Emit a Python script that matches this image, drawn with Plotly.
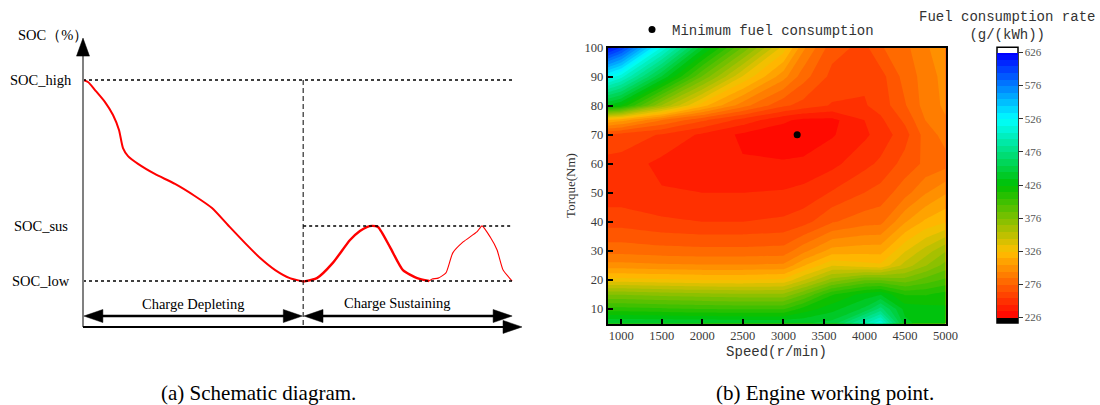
import plotly.graph_objects as go

# ---------------- Panel (a): schematic SOC profile ----------------
SOC_LOW = 20.0
SOC_SUS = 39.2
SOC_HIGH = 90.0
T_SWITCH = 51.2
T_END = 100.0
SOC_AXIS0 = 4.0       # SOC value where the time axis is drawn
SOC_AXIS_TIP = 104.6  # top of SOC axis arrow
T_AXIS_TIP = 102.1    # tip of time axis arrow
SOC_MODE_ARROW = 7.8  # level of the mode arrows

cd_time = [0, 1.16, 2.79, 5.12, 6.98, 8.37, 9.3, 10.47, 12.8, 16.7, 21.4, 26.0,
           30.0, 33.7, 37.7, 41.2, 44.7, 48.1, 51.2]
cd_soc = [90.0, 89.3, 86.5, 82.3, 77.8, 72.6, 66.3, 63.5, 60.8, 57.3, 53.8, 49.6,
          45.4, 39.5, 33.2, 28.0, 23.8, 21.0, 19.8]

cs1_time = [51.2, 54.4, 58.1, 62.1, 64.4, 66.0, 67.2, 68.6, 71.4, 74.4, 77.7, 80.5]
cs1_soc = [19.8, 21.0, 26.3, 34.3, 37.4, 38.8, 39.2, 38.8, 31.8, 23.8, 21.0, 20.0]

cs2_time = [80.5, 81.2, 82.6, 84.4, 86.0, 88.4, 91.6, 92.8, 94.7, 96.3, 97.7, 99.8]
cs2_soc = [20.0, 20.7, 21.0, 22.8, 29.8, 33.6, 37.1, 39.2, 35.3, 30.8, 23.8, 20.0]

level_labels = ["SOC_high", "SOC_sus", "SOC_low"]
level_values = [SOC_HIGH, SOC_SUS, SOC_LOW]
mode_labels = ["Charge Depleting", "Charge Sustaining"]
captions = ["(a) Schematic diagram.", "(b) Engine working point."]

# ---------------- Panel (b): engine BSFC map ----------------
speed = [830, 1000, 1500, 2000, 2500, 3000, 3250, 3600, 4000, 4200, 4500, 4750, 5000]
torque = [5, 10, 15, 20, 25, 30, 40, 50, 60, 70, 75, 80, 90, 100]
bsfc = [
    [448, 448, 448, 447, 446, 446, 445, 450, 495, 515, 440, 430, 428],  # 5
    [410, 410, 408, 406, 405, 405, 420, 432, 448, 470, 432, 430, 428],  # 10
    [375, 375, 372, 370, 368, 368, 385, 415, 430, 435, 415, 415, 420],  # 15
    [330, 330, 328, 326, 326, 328, 345, 370, 385, 385, 380, 390, 398],  # 20
    [300, 300, 298, 297, 297, 298, 315, 335, 330, 328, 350, 365, 380],  # 25
    [282, 282, 280, 279, 279, 280, 293, 310, 312, 312, 335, 350, 365],  # 30
    [262, 262, 258, 256, 256, 258, 262, 275, 282, 283, 305, 318, 325],  # 40
    [250, 250, 247, 246, 246, 247, 249, 257, 266, 270, 282, 295, 305],  # 50
    [252, 252, 243, 238, 237, 237, 239, 243, 253, 258, 270, 278, 282],  # 60
    [265, 262, 255, 244, 234, 230, 227, 235, 244, 250, 262, 280, 290],  # 70
    [315, 310, 286, 268, 252, 238, 233, 233, 246, 254, 268, 286, 295],  # 75
    [435, 425, 365, 320, 290, 268, 262, 255, 255, 260, 275, 290, 298],  # 80
    [525, 510, 445, 385, 335, 300, 280, 263, 258, 262, 280, 290, 300],  # 90
    [625, 605, 515, 440, 385, 332, 298, 270, 263, 275, 283, 295, 300],  # 100
]
min_speed = [3170]
min_torque = [70]
cbar_ticks = [226, 276, 326, 376, 426, 476, 526, 576, 626]
x_ticks = [1000, 1500, 2000, 2500, 3000, 3500, 4000, 4500, 5000]
y_ticks = [10, 20, 30, 40, 50, 60, 70, 80, 90, 100]

# ---------------- geometry helpers ----------------
W, H = 1100, 405
KX, KY = 4.3, 2.871          # schematic px per unit
X0_PX, YLOW_PX = 83, 281     # schematic anchor pixels

SERIF = "Liberation Serif, Times New Roman, serif"
MONO = "Liberation Mono, Courier New, monospace"


def head(tx, ty, direction, length=19, half=6.5):
    lx, hy = length / KX, half / KY
    ly, hx = length / KY, half / KX
    if direction == "right":
        pts = [(tx, ty), (tx - lx, ty + hy), (tx - lx, ty - hy)]
    elif direction == "left":
        pts = [(tx, ty), (tx + lx, ty + hy), (tx + lx, ty - hy)]
    else:  # up
        pts = [(tx, ty), (tx - hx, ty - ly), (tx + hx, ty - ly)]
    path = "M {} {} L {} {} L {} {} Z".format(*[v for p in pts for v in p])
    return dict(type="path", path=path, xref="x2", yref="y2",
                fillcolor="black", line=dict(color="black", width=0.5))


fig = go.Figure()

# ---- schematic curves ----
fig.add_trace(go.Scatter(x=cd_time, y=cd_soc, mode="lines", xaxis="x2", yaxis="y2",
                         line=dict(color="#ff0000", width=2, shape="spline", smoothing=0.6),
                         showlegend=False, hoverinfo="skip"))
fig.add_trace(go.Scatter(x=cs1_time, y=cs1_soc, mode="lines", xaxis="x2", yaxis="y2",
                         line=dict(color="#ff0000", width=2.4, shape="spline", smoothing=0.6),
                         showlegend=False, hoverinfo="skip"))
fig.add_trace(go.Scatter(x=cs2_time, y=cs2_soc, mode="lines", xaxis="x2", yaxis="y2",
                         line=dict(color="#ff0000", width=1.1, shape="spline", smoothing=0.5),
                         showlegend=False, hoverinfo="skip"))

# ---- contour map ----
red_gold_green_cyan_blue = [
    [0.0, "#ff0000"], [0.25, "#ffc000"], [0.5, "#00c000"], [0.75, "#00ffff"], [1.0, "#0000ff"]
]
fig.add_trace(go.Contour(
    x=speed, y=torque, z=bsfc,
    colorscale=red_gold_green_cyan_blue, zmin=226, zmax=626,
    contours=dict(start=226, end=626, size=10, coloring="fill", showlines=False),
    line=dict(width=0, smoothing=0),
    showlegend=False, hoverinfo="skip",
    colorbar=dict(
        thickness=21, thicknessmode="pixels",
        len=265, lenmode="pixels",
        x=997 / W, xanchor="left", xpad=0,
        y=1 - 52.5 / H, yanchor="top", ypad=0,
        outlinewidth=0,
        tickmode="array", tickvals=cbar_ticks,
        ticks="outside", ticklen=5, tickwidth=1, tickcolor="#333",
        tickfont=dict(family=SERIF, size=11, color="#555"),
    ),
))
fig.add_trace(go.Scatter(x=min_speed, y=min_torque, mode="markers",
                         marker=dict(color="black", size=7),
                         name="Minimum fuel consumption", showlegend=True, hoverinfo="skip"))

shapes = []
# guide lines
shapes.append(dict(type="line", xref="x2", yref="y2", x0=0, x1=T_END, y0=SOC_HIGH, y1=SOC_HIGH,
                   line=dict(color="black", width=1.5, dash="3px,3px")))
shapes.append(dict(type="line", xref="x2", yref="y2", x0=T_SWITCH, x1=T_END, y0=SOC_SUS, y1=SOC_SUS,
                   line=dict(color="black", width=1.5, dash="3px,3px")))
shapes.append(dict(type="line", xref="x2", yref="y2", x0=0, x1=T_END, y0=SOC_LOW, y1=SOC_LOW,
                   line=dict(color="black", width=1.5, dash="3px,3px")))
shapes.append(dict(type="line", xref="x2", yref="y2", x0=T_SWITCH, x1=T_SWITCH, y0=SOC_HIGH, y1=SOC_AXIS0,
                   line=dict(color="black", width=1, dash="5px,3px")))
# axes
shapes.append(dict(type="line", xref="x2", yref="y2", x0=0, x1=0, y0=SOC_AXIS0, y1=SOC_AXIS_TIP - 15 / KY,
                   line=dict(color="#808080", width=2)))
shapes.append(head(0, SOC_AXIS_TIP, "up", length=18, half=6.5))
shapes.append(dict(type="line", xref="x2", yref="y2", x0=0, x1=T_AXIS_TIP - 15 / KX, y0=SOC_AXIS0, y1=SOC_AXIS0,
                   line=dict(color="black", width=2)))
shapes.append(head(T_AXIS_TIP, SOC_AXIS0, "right", length=19, half=6.5))
# mode arrows
for a, b in [(0, T_SWITCH), (T_SWITCH, T_END)]:
    shapes.append(dict(type="line", xref="x2", yref="y2", x0=a + 3, x1=b - 3,
                       y0=SOC_MODE_ARROW, y1=SOC_MODE_ARROW, line=dict(color="black", width=2.5)))
    shapes.append(head(a + 0.2, SOC_MODE_ARROW, "left"))
    shapes.append(head(b - 0.2, SOC_MODE_ARROW, "right"))

# colorbar out-of-range cells and frame
cb_x0, cb_x1 = 997 / W, 1018 / W
shapes.append(dict(type="rect", xref="paper", yref="paper", x0=cb_x0, x1=cb_x1,
                   y0=1 - 323 / H, y1=1 - 317.5 / H, fillcolor="black", line=dict(width=0)))
shapes.append(dict(type="rect", xref="paper", yref="paper", x0=cb_x0, x1=cb_x1,
                   y0=1 - 52.5 / H, y1=1 - 47.3 / H, fillcolor="white", line=dict(width=0)))
shapes.append(dict(type="rect", xref="paper", yref="paper", x0=cb_x0, x1=cb_x1,
                   y0=1 - 323 / H, y1=1 - 47.3 / H, fillcolor="rgba(0,0,0,0)",
                   line=dict(color="black", width=1.5)))

annotations = []
label_x = (41 - X0_PX) / KX
for txt, lv in zip(level_labels, level_values):
    annotations.append(dict(text=txt, x=label_x, y=lv, xref="x2", yref="y2", showarrow=False,
                            xanchor="center", yanchor="middle",
                            font=dict(family=SERIF, size=14.5, color="black")))
annotations.append(dict(text="SOC（%）", x=(16 - X0_PX) / KX, y=SOC_LOW + (YLOW_PX - 35) / KY,
                        xref="x2", yref="y2", showarrow=False, xanchor="left", yanchor="middle",
                        font=dict(family=SERIF, size=14.5, color="black")))
annotations.append(dict(text=mode_labels[0], x=T_SWITCH / 2, y=SOC_MODE_ARROW + 12 / KY,
                        xref="x2", yref="y2", showarrow=False, xanchor="center", yanchor="middle",
                        font=dict(family=SERIF, size=14.5, color="black")))
annotations.append(dict(text=mode_labels[1], x=73.0, y=SOC_MODE_ARROW + 13 / KY,
                        xref="x2", yref="y2", showarrow=False, xanchor="center", yanchor="middle",
                        font=dict(family=SERIF, size=14.5, color="black")))
annotations.append(dict(text=captions[0], x=258 / W, y=1 - 393 / H, xref="paper", yref="paper",
                        showarrow=False, xanchor="center", yanchor="middle",
                        font=dict(family=SERIF, size=21, color="black")))
annotations.append(dict(text=captions[1], x=825 / W, y=1 - 393 / H, xref="paper", yref="paper",
                        showarrow=False, xanchor="center", yanchor="middle",
                        font=dict(family=SERIF, size=21, color="black")))
annotations.append(dict(text="Fuel consumption rate<br>(g/(kWh))", x=1007 / W, y=1 - 25.5 / H,
                        xref="paper", yref="paper", showarrow=False, xanchor="center",
                        yanchor="middle", align="center",
                        font=dict(family=MONO, size=14, color="#333")))

fig.update_layout(
    width=W, height=H,
    margin=dict(l=0, r=0, t=0, b=0, autoexpand=False),
    paper_bgcolor="white", plot_bgcolor="white",
    font=dict(family=SERIF, color="#333"),
    xaxis=dict(domain=[607.5 / W, 945.5 / W], range=[830, 5000], anchor="y",
               tickmode="array", tickvals=x_ticks, ticks="inside", ticklen=5, tickwidth=1.5,
               tickcolor="black", showline=True, linecolor="black", linewidth=1.5, mirror=True,
               showgrid=False, zeroline=False,
               tickfont=dict(family=SERIF, size=12.5, color="#3a3a3a"),
               title=dict(text="Speed(r/min)", font=dict(family=MONO, size=14, color="#333"),
                          standoff=4)),
    yaxis=dict(domain=[1 - 323.5 / H, 1 - 47.5 / H], range=[5, 100], anchor="x",
               tickmode="array", tickvals=y_ticks, ticks="inside", ticklen=6, tickwidth=1.5,
               tickcolor="black", showline=True, linecolor="black", linewidth=1.5, mirror=True,
               showgrid=False, zeroline=False,
               tickfont=dict(family=SERIF, size=12.5, color="#3a3a3a"),
               title=dict(text="Torque(Nm)", font=dict(family=SERIF, size=13, color="#333"),
                          standoff=6)),
    xaxis2=dict(domain=[0, 560 / W], range=[-X0_PX / KX, (560 - X0_PX) / KX], anchor="y2",
                visible=False, fixedrange=True),
    yaxis2=dict(domain=[0, 1], range=[SOC_LOW - (H - YLOW_PX) / KY, SOC_LOW + YLOW_PX / KY],
                anchor="x2", visible=False, fixedrange=True),
    legend=dict(x=632 / W, y=1 - 30 / H, xanchor="left", yanchor="middle",
                bgcolor="rgba(0,0,0,0)", borderwidth=0,
                font=dict(family=MONO, size=14, color="#333")),
    shapes=shapes,
    annotations=annotations,
)

fig.write_html("out.html")
